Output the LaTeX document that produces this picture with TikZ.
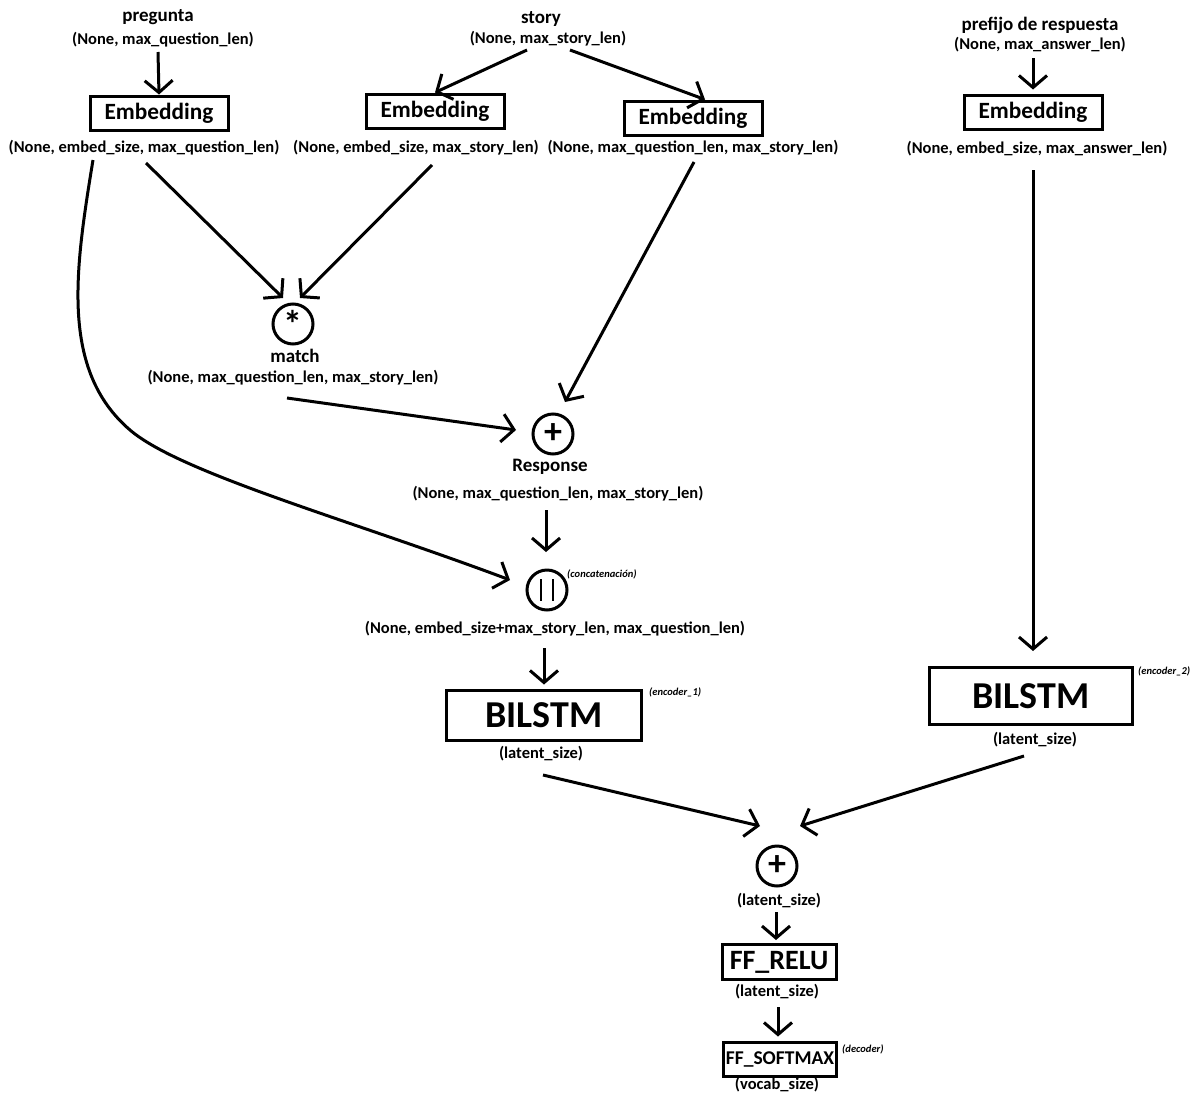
\documentclass[tikz,border=0pt]{standalone}
\usepackage{fontspec}
\setmainfont{Carlito}
\usetikzlibrary{arrows.meta,calc}
\begin{document}
\begin{tikzpicture}[x=1pt,y=-1pt,
  lbl/.style={font=\bfseries\fontsize{16.5}{18}\selectfont, inner sep=0pt},
  ttl/.style={font=\bfseries\fontsize{19}{21}\selectfont, inner sep=0pt},
  note/.style={font=\bfseries\itshape\fontsize{10.5}{12}\selectfont, inner sep=0pt},
  box/.style={draw, line width=3pt, inner sep=0pt, font=\bfseries\fontsize{23.3}{25}\selectfont},
  circ/.style={circle, draw, line width=3pt, minimum size=40pt, inner sep=0pt},
  arr/.style={line width=3pt, -{Straight Barb[length=12pt,width=28pt,line width=3pt]}}
]
\useasboundingbox (0,0) rectangle (1194,1095);
\fill[white] (0,0) rectangle (1194,1095);

% inputs
\node[ttl] (pq) at (158,17) {pregunta};
\node[lbl] (pqd) at (163,40) {(None, max\_question\_len)};
\node[ttl] (st) at (541,19) {story};
\node[lbl] (sd) at (548,39) {(None, max\_story\_len)};
\node[ttl] (pa) at (1040,25) {prefijo de respuesta};
\node[lbl] (pad) at (1040,45) {(None, max\_answer\_len)};

% embeddings
\node[box, minimum width=138pt, minimum height=34pt] (emb1) at (159,113) {Embedding};
\node[box, minimum width=138pt, minimum height=34pt] (emb2) at (435,111) {Embedding};
\node[box, minimum width=138pt, minimum height=34pt] (emb3) at (693,118) {Embedding};
\node[box, minimum width=138pt, minimum height=34pt] (emb4) at (1033,112) {Embedding};

\node[lbl] (eq) at (144,148) {(None, embed\_size, max\_question\_len)};
\node[lbl] (esl) at (416,148) {(None, embed\_size, max\_story\_len)};
\node[lbl] (eql) at (693,148) {(None, max\_question\_len, max\_story\_len)};
\node[lbl] (e4l) at (1037,149) {(None, embed\_size, max\_answer\_len)};

% match
\node[circ] (mc) at (293,324) {\fontsize{38}{38}\selectfont\bfseries\raisebox{-11pt}{*}};
\node[ttl] (mcl) at (295,356) {match};
\node[lbl] (mdl) at (293,378) {(None, max\_question\_len, max\_story\_len)};

% response
\node[circ] (rc) at (553,434) {\fontsize{36}{36}\selectfont\bfseries +};
\node[ttl] (rcl) at (550,467) {Response};
\node[lbl] (rdl) at (558,494) {(None, max\_question\_len, max\_story\_len)};

% concat
\node[circ] (cc) at (547,590) {};
\draw[line width=2.5pt] ($(cc)+(-6,-11)$) -- ($(cc)+(-6,11)$);
\draw[line width=2.5pt] ($(cc)+(6,-11)$) -- ($(cc)+(6,11)$);
\node[note, anchor=west] (ccn) at (567,574) {(concatenación)};
\node[lbl] (cdl) at (555,629) {(None, embed\_size+max\_story\_len, max\_question\_len)};

% BILSTMs
\node[box, minimum width=195pt, minimum height=50pt, font=\bfseries\fontsize{38}{40}\selectfont] (b1) at (544,715) {BILSTM};
\node[note, anchor=west] (b1n) at (649,692) {(encoder\_1)};
\node[lbl] (b1l) at (541,754) {(latent\_size)};
\node[box, minimum width=203pt, minimum height=57pt, font=\bfseries\fontsize{38}{40}\selectfont] (b2) at (1031,696) {BILSTM};
\node[note, anchor=west] (b2n) at (1138,671) {(encoder\_2)};
\node[lbl] (b2l) at (1035,740) {(latent\_size)};

% decoder
\node[circ] (pc) at (777,866) {\fontsize{36}{36}\selectfont\bfseries +};
\node[lbl] (pcl) at (779,901) {(latent\_size)};
\node[box, minimum width=114pt, minimum height=35pt, font=\bfseries\fontsize{28}{30}\selectfont] (ff1) at (779,962) {FF\_RELU};
\node[lbl] (ff1l) at (777,992) {(latent\_size)};
\node[box, minimum width=113pt, minimum height=34pt, font=\bfseries\fontsize{19.5}{22}\selectfont] (ff2) at (780,1059) {FF\_SOFTMAX};
\node[note, anchor=west] (ff2n) at (842,1049) {(decoder)};
\node[lbl] (ff2l) at (777,1085) {(vocab\_size)};

% connectors
\draw[arr] ($(pqd)+(-5,12)$) -- (emb1.north);
\draw[arr] ($(sd)+(-21,11)$) -- (emb2.north);
\draw[arr] ($(sd)+(22,11)$) -- ($(emb3.north)+(12,0)$);
\draw[arr] ($(pad)+(-7,13)$) -- ($(emb4.north)+(0,-4)$);
\draw[arr] ($(eq)+(2,15)$) -- ($(mc)+(-10,-26)$);
\draw[arr] ($(esl)+(16,17)$) -- ($(mc)+(7,-26)$);
\draw[arr] ($(eql)+(1,14)$) -- ($(rc)+(12,-32)$);
\draw[arr] ($(mdl)+(-6,20)$) -- ($(rc)+(-37,-4)$);
\draw[arr] ($(eq)+(-51,12)$) .. controls (75,270) and (60,370) .. (130,430)
  .. controls (180,473) and (350,520) .. ($(cc)+(-37,-10)$);
\draw[arr] ($(rdl)+(-12,16)$) -- ($(cc)+(-1,-38)$);
\draw[arr] ($(cdl)+(-11,19)$) -- ($(b1.north)+(0,-4)$);
\draw[arr] ($(e4l)+(-4,21)$) -- ($(b2.north)+(2,-15)$);
\draw[arr] ($(b1l)+(2,21)$) -- ($(pc)+(-17,-40)$);
\draw[arr] ($(b2l)+(-11,16)$) -- ($(pc)+(23,-40)$);
\draw[arr] ($(pcl)+(-3,11)$) -- ($(ff1.north)+(-3,-3)$);
\draw[arr] ($(ff1l)+(1,15)$) -- ($(ff2.north)+(-2,-4)$);
\end{tikzpicture}
\end{document}
